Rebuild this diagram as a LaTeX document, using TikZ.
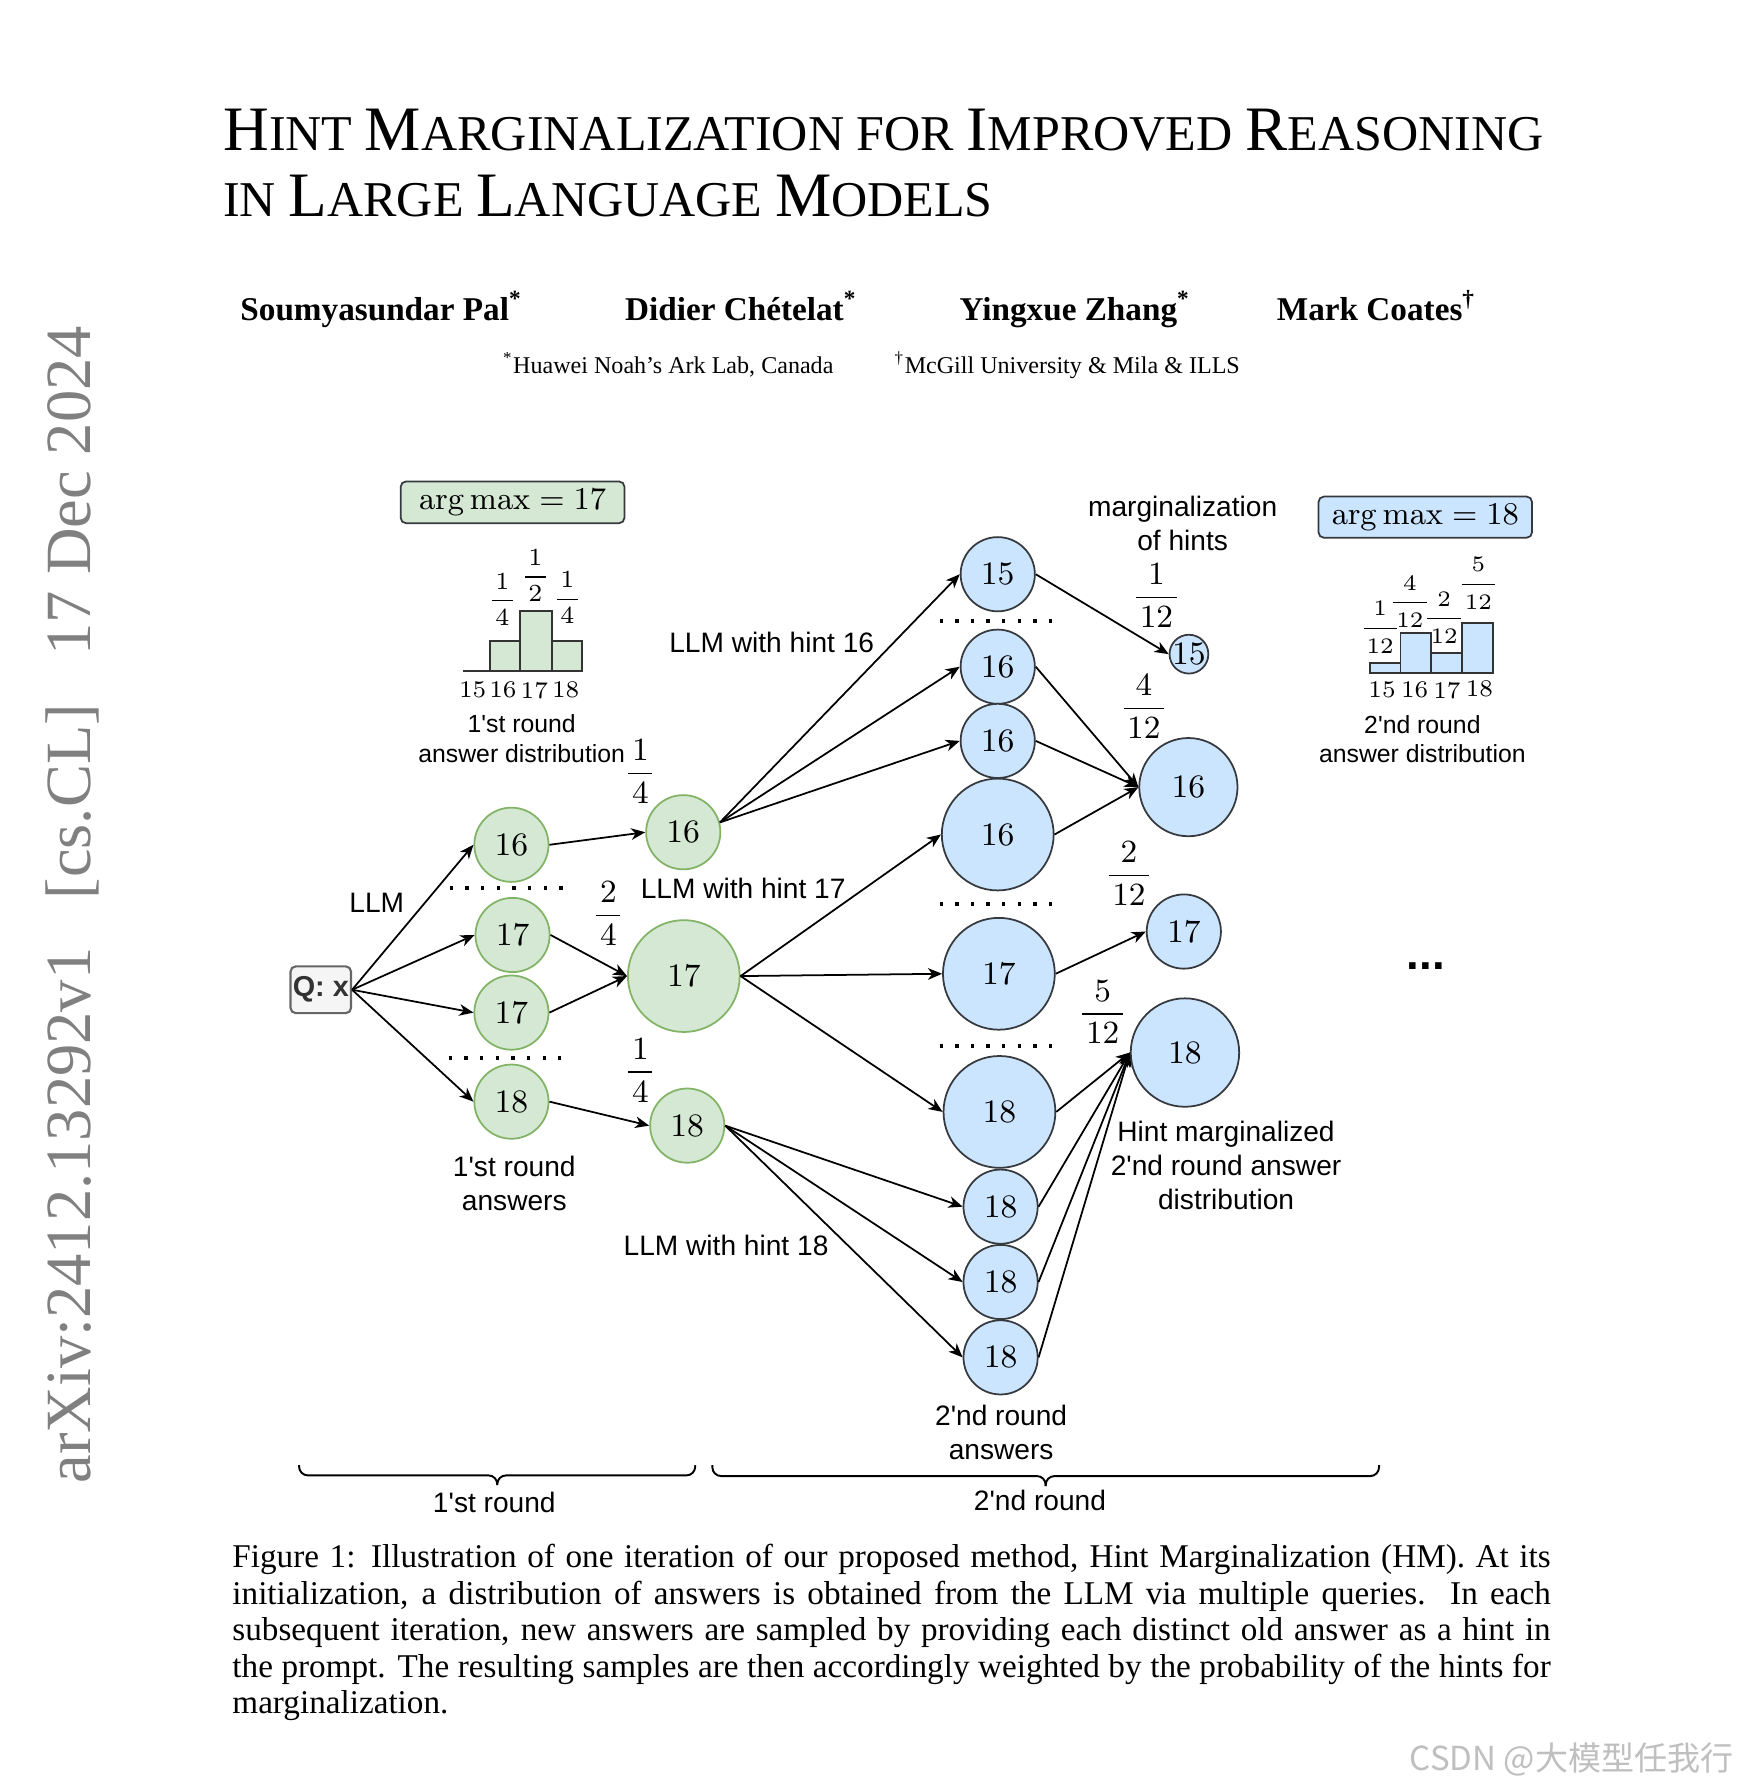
\RequirePackage{fix-cm}
\documentclass[tikz,border=0pt]{standalone}
\usepackage[no-math]{fontspec}
\usepackage{amsmath}
\usetikzlibrary{arrows.meta}
\newfontfamily\hv{Liberation Sans}
\newfontfamily\tm{Liberation Serif}
\newfontfamily\cjk{Noto Sans CJK SC}
\definecolor{gfill}{HTML}{D5E8D4}
\definecolor{gstroke}{HTML}{82B366}
\definecolor{bfill}{HTML}{CCE5FF}
\definecolor{bstroke}{HTML}{36393D}
\definecolor{qfill}{HTML}{F5F5F5}
\definecolor{qstroke}{HTML}{666666}
\definecolor{qtext}{HTML}{333333}
\definecolor{hstroke}{HTML}{333333}
\newcommand\lblf{\hv\fontsize{8}{9.7}\selectfont}
\newcommand\lblg{\hv\fontsize{7.05}{8.4}\selectfont}
\newcommand\numf{\fontsize{9.3}{11}\selectfont}
\newcommand\frf{\fontsize{9.2}{11}\selectfont}
\newcommand\hfa{\fontsize{7}{8}\selectfont}
\newcommand\hfb{\fontsize{6.3}{7}\selectfont}
\newcommand\myfr[2]{$\dfrac{\mkern2mu#1\mkern2mu}{\mkern2mu#2\mkern2mu}$}
\newcommand\tbig{\fontsize{18}{21}\selectfont}
\newcommand\tsmall{\fontsize{14.25}{21}\selectfont}
\begin{document}
\begin{tikzpicture}[x=0.11413mm,y=-0.11413mm,
  gc/.style={circle, draw=gstroke, fill=gfill, line width=0.5pt, inner sep=0pt, font=\numf},
  bc/.style={circle, draw=bstroke, fill=bfill, line width=0.5pt, inner sep=0pt, font=\numf},
  rs/.style={minimum size=7.42mm},
  rb/.style={minimum size=11.18mm},
  arr/.style={-{Stealth[length=4pt,width=3.3pt,inset=1.2pt]}, line width=0.5pt},
  lbl/.style={font=\lblf, align=center, inner sep=0pt},
  frc/.style={font=\frf, inner sep=0pt},
  sepdots/.style={line width=1.05pt, dash pattern=on 0.95pt off 3.5pt},
  amax/.style={draw=bstroke, line width=0.5pt, rounded corners=1.5pt, inner sep=0pt, font=\fontsize{9}{10}\selectfont},
  txt/.style={inner sep=0pt},
  brc/.style={line width=0.55pt, rounded corners=2.5pt}]
\useasboundingbox (0,0) rectangle (1522,1568);
\fill[white] (0,0) rectangle (1522,1568);

% ---------- header ----------
\node[txt, anchor=base west] (title1) at (195,132) {\tm\tbig H\tsmall INT \tbig M\tsmall ARGINALIZATION FOR \tbig I\tsmall MPROVED \tbig R\tsmall EASONING};
\node[txt, anchor=base west] (title2) at (195,190) {\tm\tsmall IN \tbig L\tsmall ARGE \tbig L\tsmall ANGUAGE \tbig M\tsmall ODELS};
\begin{scope}[every node/.style={txt, anchor=base west, font=\tm\bfseries\fontsize{9.45}{11}\selectfont}]
\node (au1) at (210,281) {Soumyasundar Pal\textsuperscript{*}};
\node (au2) at (547,281) {Didier Chételat\textsuperscript{*}};
\node (au3) at (840,281) {Yingxue Zhang\textsuperscript{*}};
\node (au4) at (1118,281) {Mark Coates\textsuperscript{\dag}};
\end{scope}
\begin{scope}[every node/.style={txt, anchor=base west, font=\tm\fontsize{6.85}{8}\selectfont}]
\node (af1) at (440,327) {\textsuperscript{*}Huawei Noah’s Ark Lab, Canada};
\node (af2) at (783,327) {\textsuperscript{\dag}McGill University \& Mila \& ILLS};
\end{scope}
\node[txt, rotate=90, anchor=base west, text=black!50, font=\tm\fontsize{18.35}{20}\selectfont] (stamp) at (79,1300) {arXiv:2412.13292v1\hspace{0.75em}[cs.CL]\hspace{0.75em}17 Dec 2024};

% ---------- histogram 1 ----------
\node[amax, fill=gfill, minimum width=22.37mm, minimum height=4.17mm] (am1) at (449,440) {$\arg\max = 17$};
\draw[line width=0.5pt, draw=hstroke] (406,587.6) -- (429.3,587.6);
\filldraw[fill=gfill, draw=hstroke, line width=0.5pt] (429.3,587.6) rectangle (455.6,561.3) (455.6,587.6) rectangle (483.4,535) (483.4,587.6) rectangle (509.7,561.3);
\node[txt, font=\hfa] (h1f16) at (440,525) {\myfr{1}{4}};
\node[txt, font=\hfa] (h1f17) at (469,504) {\myfr{1}{2}};
\node[txt, font=\hfa] (h1f18) at (497,523.5) {\myfr{1}{4}};
\begin{scope}[every node/.style={txt, font=\fontsize{6.8}{7}\selectfont}]
\node (h1x15) at (414,604.6) {15};
\node (h1x16) at (440.5,604.6) {16};
\node (h1x17) at (468,604.6) {17};
\node (h1x18) at (495.5,604.6) {18};
\end{scope}
\node[lbl, font=\lblg] (h1lab) at (457,647) {1'st round\\answer distribution};

% ---------- histogram 2 ----------
\node[amax, fill=bfill, minimum width=21.34mm, minimum height=4.11mm] (am2) at (1248.5,453) {$\arg\max = 18$};
\filldraw[fill=bfill, draw=hstroke, line width=0.5pt] (1199.8,589.4) rectangle (1226.7,580.6) (1226.7,589.4) rectangle (1253.8,554.3) (1253.8,589.4) rectangle (1280.7,571.9) (1280.7,589.4) rectangle (1307.5,545.6);
\node[txt, font=\hfb] (h2f15) at (1209,549.5) {\myfr{1}{12}};
\node[txt, font=\hfb] (h2f16) at (1235,527) {\myfr{4}{12}};
\node[txt, font=\hfb] (h2f17) at (1265,541) {\myfr{2}{12}};
\node[txt, font=\hfb] (h2f18) at (1295,511) {\myfr{5}{12}};
\begin{scope}[every node/.style={txt, font=\fontsize{6.8}{7}\selectfont}]
\node (h2x15) at (1210.6,604.6) {15};
\node (h2x16) at (1239.2,604.6) {16};
\node (h2x17) at (1267.5,604.6) {17};
\node (h2x18) at (1296,603) {18};
\end{scope}
\node[lbl, font=\lblg] (h2lab) at (1246,647.5) {2'nd round\\answer distribution};

% ---------- nodes ----------
\node[draw=qstroke, fill=qfill, line width=0.6pt, rounded corners=1.5pt, minimum width=6.05mm, minimum height=4.68mm, inner sep=0pt, text=qtext, font=\hv\bfseries\fontsize{8.2}{9}\selectfont] (Q) at (281,867) {Q: x};
\node[lbl] (llm) at (330,791) {LLM};

\node[gc, rs] (g16a) at (448,740) {16};
\node[gc, rs] (g17a) at (449,819) {17};
\node[gc, rs] (g17b) at (448,887) {17};
\node[gc, rs] (g18a) at (448,965) {18};
\draw[sepdots] (394,777.8) -- (497,777.8);
\draw[sepdots] (393,927) -- (496,927);
\node[lbl] (r1ans) at (450.5,1036.5) {1'st round\\answers};

\node[gc, rs] (h16) at (598.5,729) {16};
\node[gc, rb] (h17) at (599,855) {17};
\node[gc, rs] (h18) at (602,986) {18};
\node[frc] (fh16) at (561,676) {\myfr{1}{4}};
\node[frc] (fh17) at (533,800.5) {\myfr{2}{4}};
\node[frc] (fh18) at (561,937.5) {\myfr{1}{4}};

\node[lbl] (hint16) at (676,563) {LLM with hint 16};
\node[lbl] (hint17) at (651,778) {LLM with hint 17};
\node[lbl] (hint18) at (636,1091) {LLM with hint 18};

\node[bc, rs] (b15) at (874,503) {15};
\node[bc, rs] (b16a) at (874,584) {16};
\node[bc, rs] (b16b) at (874,649) {16};
\node[bc, rb] (b16c) at (874,731) {16};
\node[bc, rb] (b17) at (875,853) {17};
\node[bc, rb] (b18a) at (875.5,974) {18};
\node[bc, rs] (b18b) at (876.5,1057) {18};
\node[bc, rs] (b18c) at (876.5,1123) {18};
\node[bc, rs] (b18d) at (876.5,1189) {18};
\draw[sepdots] (823,544) -- (929,544);
\draw[sepdots] (823,792) -- (929,792);
\draw[sepdots] (823,916) -- (929,916);
\node[lbl] (r2ans) at (877,1255) {2'nd round\\answers};

\node[bc, minimum size=3.88mm, label={[font=\numf, inner sep=0pt]center:15}] (m15) at (1041.5,573) {};
\node[bc, minimum size=9.82mm] (m16) at (1041,689.5) {16};
\node[bc, rs] (m17) at (1037,816) {17};
\node[bc, minimum size=10.84mm] (m18) at (1038,922) {18};
\node[frc] (fm15) at (1013,521.5) {\myfr{1}{12}};
\node[frc] (fm16) at (1002,619) {\myfr{4}{12}};
\node[frc] (fm17) at (989,765.5) {\myfr{2}{12}};
\node[frc] (fm18) at (966,886.5) {\myfr{5}{12}};
\node[lbl, font=\hv\fontsize{8}{9.4}\selectfont] (margh) at (1036,458.5) {marginalization\\of hints};
\node[lbl] (hmlab) at (1074,1021) {Hint marginalized\\2'nd round answer\\distribution};
\node[txt, anchor=base, font=\hv\bfseries\fontsize{13}{14}\selectfont] (more) at (1249,849) {...};

% ---------- connectors ----------
\foreach \t in {g16a,g17a,g17b,g18a} \draw[arr] (Q.east) -- (\t.west);
\draw[arr] (g16a.east) -- (h16.west);
\draw[arr] (g17a.east) -- (h17.west);
\draw[arr] (g17b.east) -- (h17.west);
\draw[arr] (g18a.east) -- (h18.west);
\foreach \t in {b15,b16a,b16b} \draw[arr] (h16.15) -- (\t.west);
\foreach \t in {b16c,b17,b18a} \draw[arr] (h17.east) -- (\t.west);
\foreach \t in {b18b,b18c,b18d} \draw[arr] (h18.east) -- (\t.west);
\draw[arr] (b15.east) -- (m15.west);
\foreach \s in {b16a,b16b,b16c} \draw[arr] (\s.east) -- (m16.west);
\draw[arr] (b17.east) -- (m17.west);
\foreach \s in {b18a,b18b,b18c,b18d} \draw[arr] (\s.east) -- (m18.west);

% ---------- braces ----------
\draw[brc] (262,1283.5) -- (262,1292.4) -- (435.6,1292.4) -- (435.6,1301);
\draw[brc] (609,1283.5) -- (609,1292.4) -- (435.6,1292.4) -- (435.6,1301);
\draw[brc] (624,1283.5) -- (624,1293) -- (916,1293) -- (916,1301.7);
\draw[brc] (1208,1283.5) -- (1208,1293) -- (916,1293) -- (916,1301.7);
\node[lbl] (r1) at (433,1315.7) {1'st round};
\node[lbl] (r2) at (911,1314) {2'nd round};

% ---------- caption ----------
\node[txt, anchor=north west, text width=375pt, align=justify, font=\tm\fontsize{9.44}{10.4}\selectfont] (cap) at (203,1352) {Figure 1: Illustration of one iteration of our proposed method, Hint Marginalization (HM). At its\linebreak initialization, a distribution of answers is obtained from the LLM via multiple queries.\ \ In each\linebreak subsequent iteration, new answers are sampled by providing each distinct old answer as a hint in\linebreak the prompt. The resulting samples are then accordingly weighted by the probability of the hints for\linebreak marginalization.};

\node[txt, anchor=east, text=black!25, font=\cjk\fontsize{9.4}{11}\selectfont] (wm) at (1519,1541) {CSDN @大模型任我行};
\end{tikzpicture}
\end{document}
